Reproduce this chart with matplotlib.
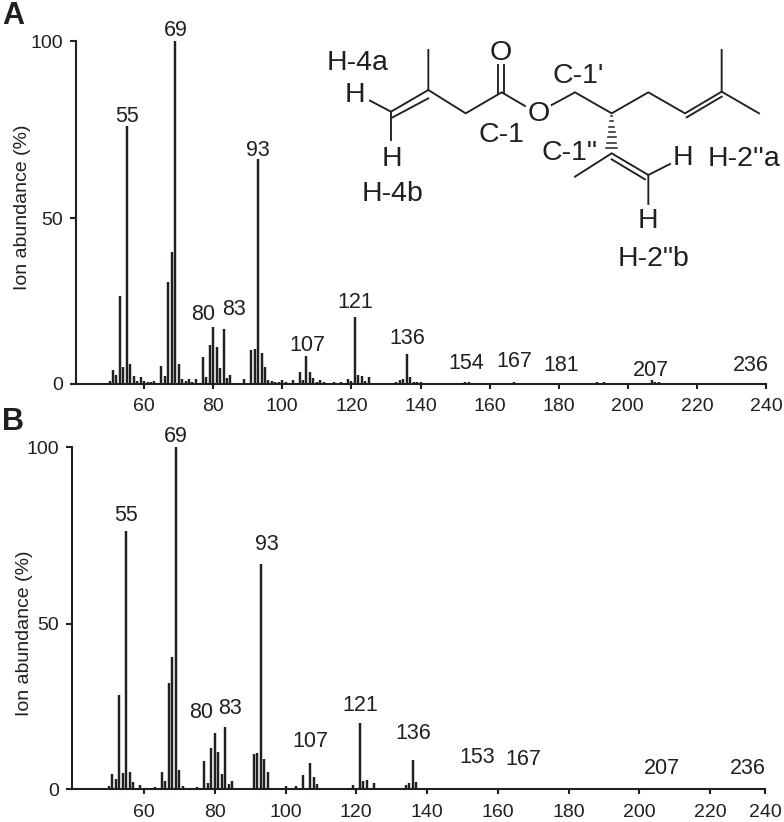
import matplotlib
matplotlib.use('Agg')
import matplotlib.pyplot as plt

# Spectrum A
mz_a = [50, 51, 52, 53, 54, 55, 56, 57, 58, 59, 60, 61, 62, 63, 65, 66, 67, 68, 69, 70,
        71, 72, 73, 74, 75, 77, 78, 79, 80, 81, 82, 83, 84, 85, 86, 89, 91, 92, 93, 94,
        95, 96, 97, 98, 99, 100, 101, 103, 105, 106, 107, 108, 109, 110, 111, 112, 115, 117, 119, 120,
        121, 122, 123, 124, 125, 126, 128, 131, 133, 134, 135, 136, 137, 138, 139, 140, 143, 147, 149, 152,
        153, 154, 155, 163, 167, 175, 177, 179, 181, 191, 193, 207, 208, 209]
abund_a = [0.7, 3.9, 2.4, 25.5, 4.9, 75.2, 5.6, 2.3, 0.7, 1.8, 0.7, 0.3, 0.3, 0.8, 5.1, 2.2, 29.6, 38.5, 100, 5.8,
           1.2, 0.8, 1.4, 0.5, 1.4, 7.8, 1.9, 11.3, 16.4, 10.8, 4.5, 16, 1.5, 2.5, 0.2, 1.2, 9.7, 10.2, 65.5, 9,
           4.9, 1, 0.6, 0.5, 0.5, 1, 0.5, 1, 3.4, 1, 8, 3.5, 1.5, 0.5, 1, 0.3, 0.3, 0.3, 1.2, 0.6,
           19.5, 2.5, 2.3, 0.6, 1.8, 0.2, 0.2, 0.2, 0.4, 1.1, 1.4, 8.7, 1.9, 0.4, 0.5, 0.3, 0.2, 0.2, 0.2, 0.2,
           0.3, 0.4, 0.2, 0.2, 0.3, 0.2, 0.2, 0.2, 0.2, 0.3, 0.3, 1.0, 0.4, 0.3]

# Spectrum B
mz_b = [50, 51, 52, 53, 54, 55, 56, 57, 59, 63, 65, 66, 67, 68, 69, 70, 71, 75, 77, 78,
        79, 80, 81, 82, 83, 84, 85, 91, 92, 93, 94, 95, 100, 103, 105, 107, 108, 109, 119, 121,
        122, 123, 125, 134, 135, 136, 137, 153, 154, 155, 167, 207]
abund_b = [0.9, 4.4, 2.8, 27.4, 4.8, 75.5, 4.9, 2, 1.2, 0.6, 5, 2.2, 31, 38.5, 100, 5.5, 0.9, 0.5, 8.3, 1.9,
           12, 16.4, 10.7, 4.4, 18, 1.6, 2.4, 10.2, 10.5, 65.8, 8.8, 4.9, 0.9, 0.9, 4, 7.6, 3.6, 1.5, 1.3, 19.3,
           2.3, 2.5, 1.8, 1.1, 1.8, 8.4, 2.1, 0.3, 0.3, 0.2, 0.2, 0.3]

peaks_a = ['55', '69', '93', '80', '83', '107', '121', '136', '154', '167', '181', '207', '236']
peaks_b = ['55', '69', '93', '80', '83', '107', '121', '136', '153', '167', '207', '236']
xticks = [60, 80, 100, 120, 140, 160, 180, 200, 220, 240]
yticks = ['0', '50', '100']

plt.rcParams['font.family'] = ['Liberation Sans', 'DejaVu Sans']
INK = '#231f20'
W, H = 784, 822

fig = plt.figure(figsize=(W / 100, H / 100), dpi=100)


def panel(left, right, base, xlim, last_tick, mz, abund, ylen):
    ax = fig.add_axes([left / W, 1 - base / H, (right - left) / W, 342 / H])
    ax.vlines(mz, 0, abund, color=INK, lw=1.75, clip_on=False)
    ax.set_xlim(*xlim)
    ax.set_ylim(0, 100)
    ax.set_xticks(xticks[:-1] + [last_tick], [str(t) for t in xticks])
    # the 50 tick sits a little under the middle in the figure
    ax.set_yticks([0, 48.3, 100], yticks)
    ax.spines[['top', 'right']].set_visible(False)
    ax.spines[['left', 'bottom']].set_linewidth(1.5)
    ax.spines[['left', 'bottom']].set_color(INK)
    ax.tick_params(axis='x', length=3.5, width=1.5, color=INK, pad=7, labelsize=14, labelcolor=INK)
    ax.tick_params(axis='y', length=ylen, width=1.5, color=INK, pad=5, labelsize=14, labelcolor=INK)
    return ax


panel(75.7, 766, 383.5, (40.2, 240), 240, mz_a, abund_a, 4)
panel(72, 765, 789, (39.65, 235.5), 235.5, mz_b, abund_b, 4.5)

# overlay in pixel coordinates for labels and the structure
ov = fig.add_axes([0, 0, 1, 1])
ov.set_xlim(0, W)
ov.set_ylim(H, 0)
ov.axis('off')
ov.patch.set_alpha(0)


def t(x, y, s, size=15.5, **kw):
    ov.text(x, y + 1, s, ha='center', va='center', fontsize=size, color=INK, **kw)


pos_a = [(127, 115), (176, 30), (258, 149), (203, 313), (234, 308), (307, 344), (355, 301),
         (407, 337), (466, 362), (514, 360), (561, 364), (651, 369), (751, 364)]
pos_b = [(126, 514), (176, 435), (267, 543), (201, 711), (230, 707), (310, 740), (360, 704),
         (413, 732), (477, 756), (523, 758), (662, 767), (748, 767)]
for s, (x, y) in zip(peaks_a, pos_a):
    t(x, y, s)
for s, (x, y) in zip(peaks_b, pos_b):
    t(x, y, s)

t(13, 15, 'A', 22, fontweight='bold')
t(13, 421, 'B', 22, fontweight='bold')
t(22.5, 206.5, 'Ion abundance (%)', 14, rotation=90)
t(25, 632, 'Ion abundance (%)', 14, rotation=90)


# structure, coordinates taken as 3x crop offsets
def z(x, y):
    return 320 + x / 3, 30 + y / 3


bonds = [
    [(325, 60), (325, 180), (213, 245), (213, 330)],
    [(325, 205), (218, 262)],
    [(213, 245), (150, 212)],
    [(325, 180), (437, 250), (545, 187), (615, 228)],
    [(535, 190), (535, 105)],
    [(553, 190), (553, 105)],
    [(695, 225), (765, 187), (875, 250), (985, 187), (1095, 250), (1205, 185), (1205, 60)],
    [(1100, 262), (1205, 200)],
    [(1205, 185), (1317, 250)],
    [(765, 440), (875, 370), (985, 435), (985, 522)],
    [(875, 388), (975, 448)],
    [(985, 435), (1050, 402)],
]
for b in bonds:
    xy = [z(*p) for p in b]
    ov.plot([p[0] for p in xy], [p[1] for p in xy], color=INK, lw=1.35, solid_joinstyle='miter')

# hashed stereo bond
for i in range(7):
    yy = 258 + i * 16
    half = 2 + i * 2.4
    x0, y0 = z(875 - half, yy)
    x1, y1 = z(875 + half, yy)
    ov.plot([x0, x1], [y0, y1], color=INK, lw=1.1)

for zx, zy, s in [(543, 65, 'O'), (657, 250, 'O'), (105, 192, 'H'), (215, 385, 'H'),
                  (1090, 380, 'H'), (985, 570, 'H'),
                  (112, 95, 'H-4a'), (218, 490, 'H-4b'), (543, 312, 'C-1'), (775, 135, "C-1'"),
                  (750, 365, 'C-1"'), (1272, 383, "H-2''a"), (1000, 685, 'H-2"b')]:
    x, y = z(zx, zy)
    t(x, y, s, 20.5)

fig.savefig('out.png', dpi=100)
